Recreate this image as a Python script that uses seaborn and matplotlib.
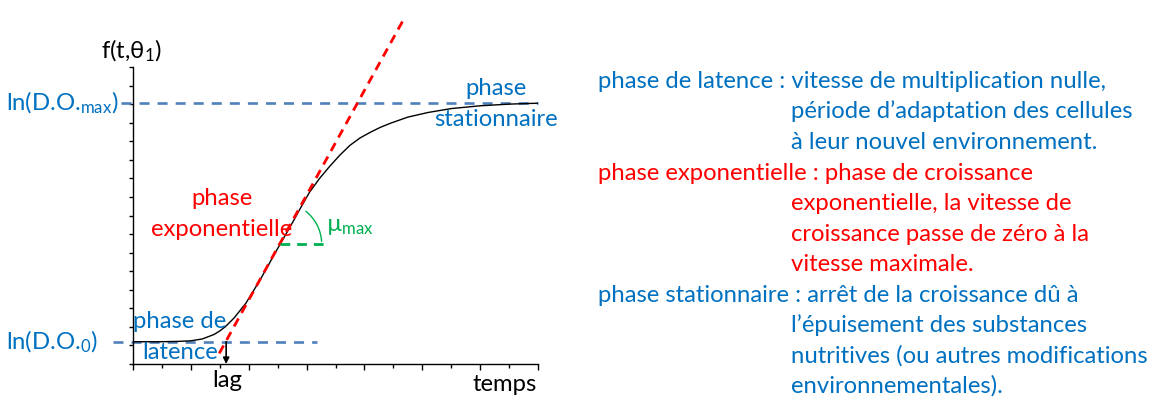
import numpy as np
import matplotlib
matplotlib.use("Agg")
import matplotlib.pyplot as plt
from matplotlib.patches import Arc
import seaborn as sns
import pandas as pd

# Bacterial growth curve: time vs ln(optical density)
time = [0.0, 1.0, 1.6, 2.0, 2.4, 2.8, 3.0, 3.2, 3.5, 3.9, 4.4, 5.0, 5.5, 5.75,
        6.1, 6.45, 6.8, 7.15, 7.5, 7.85, 8.2, 8.55, 8.9, 9.5, 10.2, 11.0,
        12.0, 13.0, 14.0]
ln_od = [1.20, 1.20, 1.22, 1.25, 1.35, 1.59, 1.78, 2.02, 2.49, 3.27, 4.55,
         6.22, 7.58, 8.29, 9.25, 10.0, 10.65, 11.25, 11.78, 12.18, 12.48,
         12.75, 12.97, 13.3, 13.55, 13.76, 13.91, 14.0, 14.05]

# Characteristic levels and times
ln_od0 = 1.2
ln_odmax = 14.08
lag = 3.22

# Tangent at the inflection point (slope = mu_max)
tangent_time = [2.98, 9.40]
tangent_value = [0.57, 18.69]

# Horizontal reference used to show the mu_max angle
mu_ref_time = [5.07, 6.70]
mu_ref_value = 6.46

# Reference line extents
od0_line_time = [-0.70, 6.35]
odmax_line_time = [-0.40, 14.0]

# Side legend text: (label, first line, continuation lines, colour)
legend_rows = [
    ("phase de latence : ", "vitesse de multiplication nulle,",
     ["période d’adaptation des cellules", "à leur nouvel environnement."],
     "#0070C0"),
    ("phase exponentielle : ", "phase de croissance",
     ["exponentielle, la vitesse de", "croissance passe de zéro à la",
      "vitesse maximale."],
     "#FF0000"),
    ("phase stationnaire : ", "arrêt de la croissance dû à",
     ["l’épuisement des substances", "nutritives (ou autres modifications",
      "environnementales)."],
     "#0070C0"),
]

BLUE_TXT = "#0070C0"
BLUE_LINE = "#4F81BD"
RED = "#FF0000"
GREEN = "#00B050"

sns.set_theme(style="white")
plt.rcParams["font.family"] = ["Lato", "DejaVu Sans"]
plt.rcParams["mathtext.fontset"] = "custom"
plt.rcParams["mathtext.rm"] = "Lato"
plt.rcParams["mathtext.it"] = "Lato:italic"
plt.rcParams["mathtext.default"] = "regular"
plt.rcParams["lines.scale_dashes"] = False

W, H = 1157, 399
fig = plt.figure(figsize=(W / 100, H / 100), dpi=100)
ax_left, ax_bottom, ax_w, ax_h = 133, 35, 405, 297
ax = fig.add_axes([ax_left / W, ax_bottom / H, ax_w / W, ax_h / H])


def fpx(x, y):
    """Pixel position (from top-left) to figure fraction."""
    return x / W, 1 - y / H


curve = pd.DataFrame({"temps": time, "f": ln_od})
sns.lineplot(data=curve, x="temps", y="f", color="black", lw=1.0,
             estimator=None, ax=ax)

xmax, ymax = 14, 16
ax.set_xlim(0, xmax)
ax.set_ylim(0, ymax)
ax.set_xlabel("")
ax.set_ylabel("")

for side in ("top", "right"):
    ax.spines[side].set_visible(False)
for side in ("left", "bottom"):
    ax.spines[side].set_color("black")
    ax.spines[side].set_linewidth(1.0)

ax.set_xticks(range(0, xmax + 1, 2))
ax.set_xticks(range(1, xmax, 2), minor=True)
ax.set_yticks(range(0, ymax + 1))
ax.set_xticklabels([])
ax.set_yticklabels([])
ax.tick_params(axis="x", which="major", bottom=True, direction="out",
               length=4.5, width=1.0, color="black")
ax.tick_params(axis="x", which="minor", bottom=True, direction="out",
               length=3.0, width=1.0, color="black")
ax.tick_params(axis="y", which="major", left=True, direction="out",
               length=3.0, width=1.0, color="black")

# Reference levels
ax.plot(odmax_line_time, [ln_odmax, ln_odmax], color=BLUE_LINE, lw=1.9,
        dashes=(7.2, 5.8), clip_on=False, zorder=1)
ax.plot(od0_line_time, [ln_od0, ln_od0], color=BLUE_LINE, lw=1.9,
        dashes=(7.2, 5.8), clip_on=False, zorder=1)

# Tangent at the inflection point
ax.plot(tangent_time, tangent_value, color=RED, lw=2.0, dashes=(6.5, 4.6),
        clip_on=False, zorder=3)

# mu_max angle
ax.plot(mu_ref_time, [mu_ref_value, mu_ref_value], color=GREEN, lw=2.0,
        dashes=(7.0, 5.0), zorder=3)
px_x = ax_w / xmax
px_y = ax_h / ymax
r_px = 42
a1, a2 = np.radians(3), np.radians(52)
th1 = np.degrees(np.arctan2(np.sin(a1) / px_y, np.cos(a1) / px_x))
th2 = np.degrees(np.arctan2(np.sin(a2) / px_y, np.cos(a2) / px_x))
ax.add_patch(Arc((mu_ref_time[0], mu_ref_value), 2 * r_px / px_x,
                 2 * r_px / px_y, theta1=th1, theta2=th2, color=GREEN,
                 lw=1.0, zorder=3))

# lag arrow
ax.annotate("", xy=(lag, 0), xytext=(lag, ln_od0),
            arrowprops=dict(arrowstyle="-|>", color="black", lw=1.2,
                            shrinkA=0, shrinkB=0, mutation_scale=9),
            annotation_clip=False)

fs = 17.2
# Axis annotations
fig.text(*fpx(131, 58), "f(t,θ$_1$)", ha="center", va="baseline",
         fontsize=fs, color="black")
fig.text(*fpx(118, 110), "ln(D.O.$_{max}$)", ha="right", va="baseline",
         fontsize=fs, color=BLUE_TXT)
fig.text(*fpx(98, 349), "ln(D.O.$_0$)", ha="right", va="baseline",
         fontsize=fs, color=BLUE_TXT)
fig.text(*fpx(227, 387), "lag", ha="center", va="baseline", fontsize=fs,
         color="black")
fig.text(*fpx(537, 391), "temps", ha="right", va="baseline", fontsize=fs,
         color="black")

# Phase labels on the chart
fig.text(*fpx(496, 95), "phase", ha="center", va="baseline", fontsize=fs,
         color=BLUE_TXT)
fig.text(*fpx(496, 126), "stationnaire", ha="center", va="baseline",
         fontsize=fs, color=BLUE_TXT)
fig.text(*fpx(222, 205), "phase", ha="center", va="baseline", fontsize=fs,
         color=RED)
fig.text(*fpx(222, 236), "exponentielle", ha="center", va="baseline",
         fontsize=fs, color=RED)
fig.text(*fpx(180, 328), "phase de", ha="center", va="baseline",
         fontsize=fs, color=BLUE_TXT)
fig.text(*fpx(180, 359), "latence", ha="center", va="baseline",
         fontsize=fs, color=BLUE_TXT)
fig.text(*fpx(326, 231), "µ$_{max}$", ha="left", va="baseline",
         fontsize=fs, color=GREEN)

# Side legend; continuation lines line up after the first label
renderer = fig.canvas.get_renderer()
x_label = 598
baseline, step = 88, 30.5
probe = fig.text(*fpx(x_label, baseline), legend_rows[0][0], ha="left",
                 va="baseline", fontsize=fs)
x_indent = x_label + probe.get_window_extent(renderer).width
probe.remove()

row = 0
for label, first, rest, color in legend_rows:
    fig.text(*fpx(x_label, baseline + step * row), label + first, ha="left",
             va="baseline", fontsize=fs, color=color)
    row += 1
    for line in rest:
        fig.text(*fpx(x_indent, baseline + step * row), line, ha="left",
                 va="baseline", fontsize=fs, color=color)
        row += 1

fig.savefig("out.png", dpi=100)
